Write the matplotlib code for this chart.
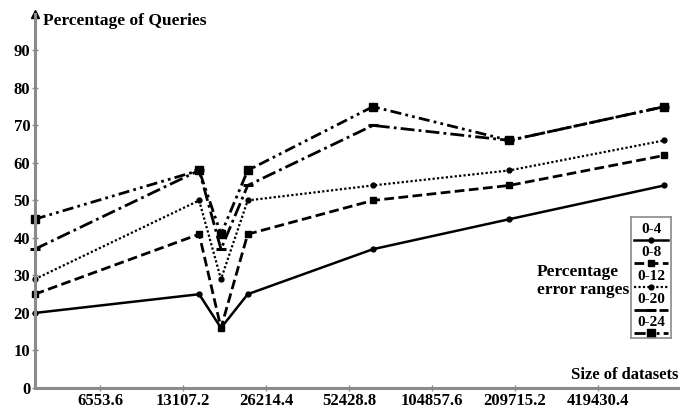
import matplotlib
matplotlib.use('Agg')
import matplotlib.pyplot as plt
from matplotlib.ticker import FixedLocator, NullLocator

W, H = 680, 411

# dataset sizes (log2 scale) and the share of queries per error range
sizes = [3800, 15000, 18000, 22500, 64000, 200000, 730000]
range_labels = ['0-4', '0-8', '0-12', '0-20', '0-24']
pct_0_4 = [20, 25, 16, 25, 37, 45, 54]
pct_0_8 = [25, 41, 16, 41, 50, 54, 62]
pct_0_12 = [29, 50, 29, 50, 54, 58, 66]
pct_0_20 = [37, 58, 37, 54, 70, 66, 75]
pct_0_24 = [45, 58, 41, 58, 75, 66, 75]
x_ticks = [6553.6, 13107.2, 26214.4, 52428.8, 104857.6, 209715.2, 419430.4]
y_ticks = [0, 10, 20, 30, 40, 50, 60, 70, 80, 90]

series = [pct_0_4, pct_0_8, pct_0_12, pct_0_20, pct_0_24]
styles = [
    dict(ls='-', lw=1.8, marker='o', ms=3.5),
    dict(ls=(0, (3.5, 1.6)), lw=2.0, marker='s', ms=5),
    dict(ls=(0, (1, 1)), lw=1.6, marker='o', ms=3.5),
    dict(ls=(0, (5, 1.5, 1, 1.5)), lw=2.0, marker='_', ms=7, mew=2.2),
    dict(ls=(0, (4, 1.5, 1, 1.5, 1, 1.5)), lw=2.0, marker='s', ms=5.5),
]

plt.rcParams['font.family'] = ['Liberation Serif', 'DejaVu Serif']
plt.rcParams['font.weight'] = 'bold'
axis_grey = '#8a8a8a'

fig = plt.figure(figsize=(W / 100, H / 100), dpi=100)
ax = fig.add_axes([35 / W, (H - 388) / H, (W - 35) / W, (388 - 14) / H])

for vals, st in zip(series, styles):
    ax.plot(sizes, vals, color='black', clip_on=False, **st)

ax.set_xscale('log', base=2)
ax.set_xlim(6553.6 * 2 ** (-65 / 83), 6553.6 * 2 ** (580 / 83))
ax.set_ylim(0, 99.7)
ax.xaxis.set_major_locator(FixedLocator(x_ticks))
ax.xaxis.set_minor_locator(NullLocator())
ax.set_xticklabels([f'{v:.1f}' for v in x_ticks])
ax.set_yticks(y_ticks)
ax.set_yticklabels([str(v) for v in y_ticks])

for side in ['top', 'right']:
    ax.spines[side].set_visible(False)
for side in ['left', 'bottom']:
    ax.spines[side].set_color(axis_grey)
    ax.spines[side].set_linewidth(2.2)
ax.tick_params(axis='both', direction='inout', length=5, width=1,
               color=axis_grey, labelsize=12)
ax.tick_params(axis='x', pad=1)
ax.tick_params(axis='y', pad=1)

# arrow head on top of the y axis
ax.plot([0], [1], marker='^', ms=6, color='black', transform=ax.transAxes,
        clip_on=False)

fig.text(43 / W, 1 - 21 / H, 'Percentage of Queries', fontsize=12.5,
         ha='left', va='center')
fig.text(678 / W, 1 - 375 / H, 'Size of datasets', fontsize=12,
         ha='right', va='center')
fig.text(537 / W, 1 - 281 / H, 'Percentage\nerror ranges', fontsize=12.5,
         ha='left', va='center', linespacing=1.15)

# legend: label above a sample of each line style
leg = fig.add_axes([631 / W, (H - 338) / H, 40 / W, 121 / H])
leg.set_xlim(0, 40)
leg.set_ylim(121, 0)
leg.set_xticks([])
leg.set_yticks([])
for sp in leg.spines.values():
    sp.set_color(axis_grey)
    sp.set_linewidth(1.2)
for i, (lab, st) in enumerate(zip(range_labels, styles)):
    y_txt = 12.5 + 23.3 * i
    y_line = y_txt + 10.5
    leg.text(20, y_txt, lab, fontsize=11, ha='center', va='center')
    leg.plot([3, 20, 37], [y_line] * 3, color='black', markevery=[1], **st)

fig.savefig('out.png', dpi=100)
